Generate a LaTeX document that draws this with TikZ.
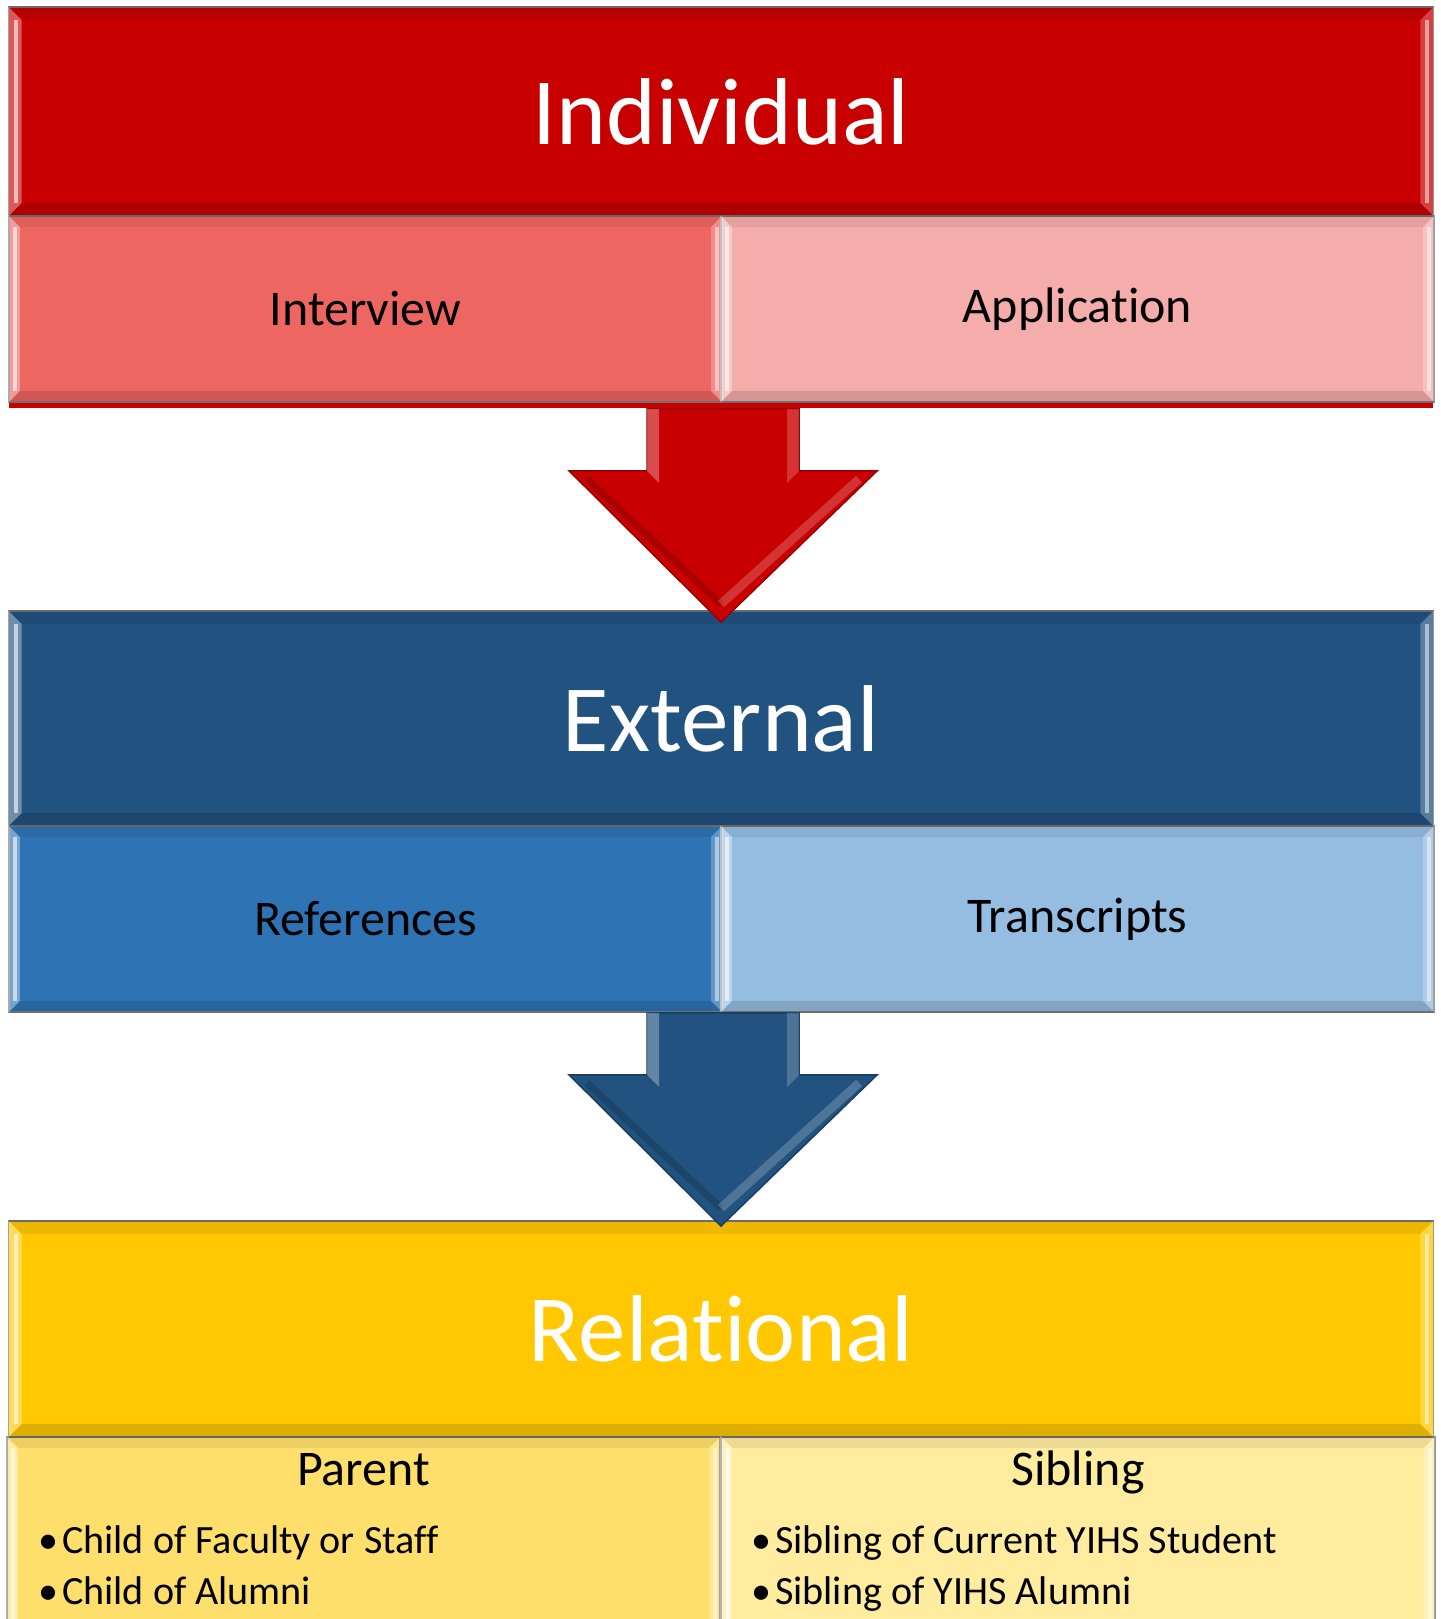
\documentclass[tikz,border=0pt]{standalone}
\usepackage{fontspec}
\setmainfont{Carlito}[Ligatures=NoCommon]
\usepackage{tikz}
\usetikzlibrary{calc}

\definecolor{indred}{HTML}{C80000}
\definecolor{intvred}{HTML}{EE6662}
\definecolor{applred}{HTML}{F4ADAA}
\definecolor{extblue}{HTML}{22527F}
\definecolor{refblue}{HTML}{2E74B5}
\definecolor{trnblue}{HTML}{95BDE1}
\definecolor{relgold}{HTML}{FFC800}
\definecolor{pargold}{HTML}{FFDF6C}
\definecolor{sibgold}{HTML}{FFEC9F}

% bevel strips inside a box: #1 node, #2 inset
\newcommand{\bevel}[2]{
  \fill[black,opacity=.07] (#1.north west) -- (#1.north east) -- ([shift={(-#2,#2)}]#1.north east) -- ([shift={(#2,#2)}]#1.north west) -- cycle;
  \fill[black,opacity=.13] (#1.south west) -- (#1.south east) -- ([shift={(-#2,-#2)}]#1.south east) -- ([shift={(#2,-#2)}]#1.south west) -- cycle;
  \fill[white,opacity=.35] (#1.north west) -- ([shift={(#2,#2)}]#1.north west) -- ([shift={(#2,-#2)}]#1.south west) -- (#1.south west) -- cycle;
  \fill[white,opacity=.25] (#1.north east) -- ([shift={(-#2,#2)}]#1.north east) -- ([shift={(-#2,-#2)}]#1.south east) -- (#1.south east) -- cycle;
  \draw[white,opacity=.6,line width=1.2pt] ([shift={(#2*.6,#2)}]#1.north west) -- ([shift={(#2*.6,-#2)}]#1.south west);
  \draw[white,opacity=.5,line width=1.2pt] ([shift={(-#2*.5,#2)}]#1.north east) -- ([shift={(-#2*.5,-#2)}]#1.south east);
}

% block arrow from one row to the next: #1 upper node, #2 lower node, #3 colour, #4 shaft start, #5 head start, #6 tip
\newcommand{\flowarrow}[6]{
  \fill[#3,draw=#3!75!black] ($(#1.south east)+(-76,#4)$) -- ($(#1.south east)+(-76,#5)$) -- ($(#1.south east)+(-154,#5)$)
    -- ($(#2.north)+(0,#6)$) -- ($(#1.south east)+(154,#5)$) -- ($(#1.south east)+(76,#5)$) -- ($(#1.south east)+(76,#4)$) -- cycle;
  \fill[white,opacity=.3] ($(#1.south east)+(-76,#4)$) -- ($(#1.south east)+(-64,#4)$) -- ($(#1.south east)+(-64,#5+12)$) -- ($(#1.south east)+(-76,#5)$) -- cycle;
  \fill[white,opacity=.2] ($(#1.south east)+(64,#4)$) -- ($(#1.south east)+(76,#4)$) -- ($(#1.south east)+(76,#5)$) -- ($(#1.south east)+(64,#5+12)$) -- cycle;
  \draw[#3!70!black,opacity=.5,line width=2pt] ($(#1.south east)+(-136,#5+8)$) -- ($(#2.north)+(0,#6-18)$);
  \draw[white,opacity=.2,line width=2.5pt] ($(#2.north)+(0,#6-18)$) -- ($(#1.south east)+(136,#5+8)$);
}

\begin{document}
\begin{tikzpicture}[x=0.01cm,y=-0.01cm,
  head/.style={rectangle,minimum width=14.24cm,inner sep=0pt,draw=black!55,line width=.5pt,text=white,font=\fontsize{27}{32}\selectfont},
  subbox/.style={rectangle,minimum width=7.13cm,minimum height=1.86cm,inner sep=0pt,draw=black!50,line width=.5pt},
  subtext/.style={text=black,font=\fontsize{14.2}{17}\selectfont},
  listtext/.style={text=black,anchor=base west,inner sep=0pt,font=\fontsize{11.4}{14}\selectfont}]
  \useasboundingbox (0,0) rectangle (1440,1619);
  \clip (0,0) rectangle (1440,1619);

  % individual
  \fill[indred] (9,210) rectangle (1433,408);
  \node[head,fill=indred,minimum height=2.09cm] (ind) at (721,111.5) {Individual};
  \node[subbox,fill=intvred] (intv) at (365.5,309) {};
  \node[subbox,fill=applred] (appl) at (1077.5,309) {};

  % external
  \node[head,fill=extblue,minimum height=2.15cm] (ext) at (721,718.5) {External};
  \node[subbox,fill=refblue] (refs) at (365.5,919) {};
  \node[subbox,fill=trnblue] (trans) at (1077.5,919) {};

  % relational
  \node[head,fill=relgold,minimum height=2.16cm] (rel) at (721,1329) {Relat\kern0pt ional};
  \node[subbox,fill=pargold,minimum height=2.3cm] (par) at (363.5,1552) {};
  \node[subbox,fill=sibgold,minimum height=2.3cm] (sib) at (1078,1552) {};

  \foreach \n/\b in {ind/14,ext/14,rel/14,intv/12,appl/12,refs/12,trans/12,par/12,sib/12}
    \bevel{\n}{\b};

  % texts of the lower boxes
  \node[subtext] (intvtext) at (intv.center) {Interview};
  \node[subtext] (appltext) at (appl.center) {Applicat\kern0pt ion};
  \node[subtext] (refstext) at (refs.center) {References};
  \node[subtext] (transtext) at (trans.center) {Transcripts};

  \node[subtext,anchor=base,inner sep=0pt] (partitle) at (363.5,1485) {Parent};
  \node[listtext] (par1) at (38,1553) {•\hspace{1pt}Child of Faculty or Staff};
  \node[listtext] (par2) at (38,1604) {•\hspace{1pt}Child of Alumni};
  \node[subtext,anchor=base,inner sep=0pt] (sibtitle) at (1078,1485) {Sibling};
  \node[listtext] (sib1) at (751,1553) {•\hspace{1pt}Sibling of Current YIHS Student};
  \node[listtext] (sib2) at (751,1604) {•\hspace{1pt}Sibling of YIHS Alumni};

  % arrows
  \flowarrow{intv}{ext}{indred}{6}{68}{12}
  \flowarrow{refs}{rel}{extblue}{0}{62}{6}
\end{tikzpicture}
\end{document}
